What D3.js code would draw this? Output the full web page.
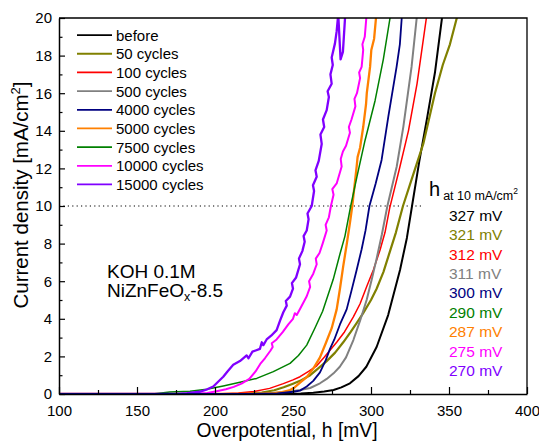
<!DOCTYPE html>
<html>
<head>
<meta charset="utf-8">
<script src="https://cdn.jsdelivr.net/npm/d3@7/dist/d3.min.js"></script>
<style>
  html, body { margin: 0; padding: 0; background: #fff; }
  svg { display: block; font-family: "Liberation Sans", Arial, sans-serif; }
</style>
</head>
<body>
<svg id="chart" width="539" height="443"></svg>
<script>
// ---- data: overpotential (mV) vs current density (mA/cm2) ----
const seriesLabels = ["before", "50 cycles", "100 cycles", "500 cycles", "4000 cycles",
                      "5000 cycles", "7500 cycles", "10000 cycles", "15000 cycles"];
// overpotential at 10 mA/cm2, listed with the series each value belongs to
const etaAt10 = [327, 321, 312, 311, 300, 290, 287, 275, 270];
const etaSeries = [0, 1, 2, 3, 4, 6, 5, 7, 8];

const curveBefore = [[100,0],[240,0],[255,0.03],[263,0.07],[270,0.13],[276,0.21],[281,0.35],
  [286.5,0.57],[292,0.95],[297,1.45],[303.6,2.5],[311,4.2],[318.6,6.6],[323,8.3],[326.3,10],
  [331,12.4],[336,14.7],[341,17.1],[345.5,20]];
const curve50 = [[100,0],[215,0],[230,0.08],[238,0.2],[244,0.36],[250,0.55],[254.5,0.7],
  [261,1.0],[266,1.35],[271.6,1.75],[277,2.2],[282.2,2.75],[287,3.3],[291,3.8],[295,4.3],
  [300,5.0],[303.6,5.6],[308,6.5],[312.2,7.6],[316,8.6],[320.5,10],[326,11.4],[333.5,13.3],
  [341,16.0],[346,17.5],[350.6,18.6],[355,20]];
const curve100 = [[100,0],[200,0],[215,0.05],[225,0.13],[235,0.3],[243.8,0.55],[250,0.75],
  [254.5,0.92],[260,1.2],[265.2,1.5],[270,1.95],[274,2.35],[278,2.75],[283,3.3],[288.7,4.1],
  [293,4.8],[297.2,5.7],[301.5,6.6],[305.8,7.66],[309,8.6],[312,9.9],[318,11.9],[324,14.0],
  [329.5,16.5],[335.5,20]];
const curve500 = [[100,0],[220,0],[235,0.04],[245,0.1],[254.5,0.21],[261,0.32],[267.3,0.57],
  [271.6,0.8],[276,1.1],[280,1.45],[284,1.95],[288.7,2.87],[293,3.9],[297.2,5.0],[300.5,6.1],
  [303.6,7.2],[307,8.5],[310.5,10],[316.5,12.1],[320.7,14.2],[326,17.4],[329.3,20]];
const curve4000 = [[100,0],[225,0],[240,0.03],[250.2,0.12],[254.5,0.18],[258.8,0.4],[263,0.7],
  [267.3,1.15],[271,1.8],[273.7,2.4],[276.5,2.9],[280.1,3.7],[284.4,4.5],[287.5,5.5],
  [290.8,6.6],[294,7.7],[296.5,8.7],[299,10.0],[303,11.2],[306.8,12.45],[311.1,14.75],
  [316.4,17.4],[318.5,18.6],[319.7,20]];
const curve5000 = [[100,0],[215,0],[230,0.02],[237.4,0.04],[243,0.1],[248.1,0.21],[251,0.35],
  [254.5,0.6],[258.8,0.9],[263,1.35],[267.3,1.95],[271,2.7],[274.8,3.5],[278,4.5],[280.1,5.6],
  [282.2,6.8],[284.5,8.0],[286.5,9.1],[288,10.0],[290.8,12.1],[291.4,12.6],[293,13.1],
  [295,14.2],[296.8,15.4],[297.3,16.0],[299.4,17.4],[300.2,18.3],[302,18.9],[303.2,20]];
const curve7500 = [[100,0],[160,0],[171,0.1],[184,0.15],[194.7,0.25],[205.3,0.43],[216,0.62],
  [226.7,0.83],[237.4,1.19],[248.1,1.63],[253.5,2.05],[258.8,2.6],[264,3.5],[269,4.4],
  [275.8,6.1],[280.1,7.45],[283.3,8.4],[287,10],[291,11.56],[296.2,13.5],[302.6,15.6],
  [307.9,17.8],[312.2,20]];
const curve10000 = [[100,0],[185,0],[195,0.05],[201,0.15],[207,0.25],[212,0.38],[217,0.55],
  [222,0.8],[226,1.2],[229,1.6],[232,1.9],[235.5,2.3],[237,2.5],[236.4,2.7],[239.5,2.9],
  [243.5,3.3],[247,3.7],[250,4.0],[251.2,4.3],[252.4,4.2],[255,4.6],[258.8,5.2],[261,5.7],
  [260.3,6.0],[263,6.4],[265.2,6.9],[264.6,7.2],[267,7.5],[269,8.0],[271.6,8.7],[270.9,9.0],
  [273,9.4],[274.3,10],[276,10.6],[275.2,10.9],[278,11.2],[281.2,12.1],[280.6,12.5],
  [282,12.9],[284,13.2],[286.5,13.9],[285.8,14.2],[287.5,14.6],[290,15.3],[289.4,15.7],
  [291,16],[293,16.8],[292.4,17.1],[294,17.4],[295,18.3],[294.5,18.6],[296,19],[297,20]];
const curve15000 = [[100,0],[175,0],[182,0.04],[190.4,0.12],[195,0.25],[198.9,0.4],[202,0.65],
  [205.3,0.92],[208,1.2],[211.7,1.55],[216,1.75],[220.3,2.05],[221.5,1.9],[224,2.25],
  [228.8,2.4],[230,2.75],[231,2.6],[233.1,2.9],[236,3.1],[239.5,3.4],[241.7,3.9],[243.8,4.35],
  [246,4.7],[245.4,4.95],[248.1,5.18],[250,5.6],[249.3,5.9],[252,6.2],[254.5,6.9],
  [253.8,7.2],[256,7.6],[257.5,8.1],[256.8,8.4],[258.8,8.7],[260,9.3],[259.3,9.6],[262,10],
  [263.5,10.8],[262.8,11.1],[265.2,11.56],[264.4,11.9],[266.5,12.4],[268.4,13.3],
  [267.6,13.8],[270,14.2],[269.2,14.6],[271.6,15.1],[273,15.8],[272.2,16.1],[274.8,16.5],
  [274,17.0],[275.5,17.5],[274.8,17.9],[276.9,18.65],[278,19.3],[279,20.2],[280.5,17.8],
  [282,18.2],[283.5,20.2]];

const curves = [curveBefore, curve50, curve100, curve500, curve4000,
                curve5000, curve7500, curve10000, curve15000];

const xTicks = [100, 150, 200, 250, 300, 350, 400];
const yTicks = [0, 2, 4, 6, 8, 10, 12, 14, 16, 18, 20];
const refCurrent = 10;       // dotted reference level, mA/cm2
const refLineEnd = 333;      // mV where the dotted level stops

// ---- styling ----
const colors = ["#000000", "#808000", "#ff0000", "#808080", "#000080",
                "#ff8000", "#008000", "#ff00ff", "#8000ff"];
const widths = [2, 2.2, 1.5, 2, 1.8, 2.3, 1.5, 2, 2.3];
const drawOrder = [0, 1, 2, 3, 5, 6, 7, 8, 4];

const svg = d3.select("#chart");
const plotL = 59, plotR = 527, plotT = 18, plotB = 394;

const x = d3.scaleLinear().domain([100, 400]).range([plotL, plotR]);
const y = d3.scaleLinear().domain([0, 20]).range([plotB, plotT]);

svg.append("defs").append("clipPath").attr("id", "plotClip")
  .append("rect").attr("x", plotL).attr("y", plotT)
  .attr("width", plotR - plotL).attr("height", plotB - plotT);

// dotted reference line at 10 mA/cm2
svg.append("line")
  .attr("x1", x(100)).attr("x2", x(refLineEnd))
  .attr("y1", y(refCurrent)).attr("y2", y(refCurrent))
  .attr("stroke", "#000").attr("stroke-width", 1.2)
  .attr("stroke-dasharray", "1.2,3.2");

// polarisation curves
const line = d3.line().x(d => x(d[0])).y(d => y(d[1])).curve(d3.curveLinear);
const curveG = svg.append("g").attr("clip-path", "url(#plotClip)");
drawOrder.forEach(i => {
  curveG.append("path")
    .attr("d", line(curves[i]))
    .attr("fill", "none")
    .attr("stroke", colors[i])
    .attr("stroke-width", widths[i])
    .attr("stroke-linejoin", "round")
    .attr("stroke-linecap", "round");
});

// frame (top and right)
svg.append("path")
  .attr("d", `M${plotL},${plotT}H${plotR}V${plotB}`)
  .attr("fill", "none").attr("stroke", "#000").attr("stroke-width", 1.3);

// axes with inward ticks
svg.append("g").attr("transform", `translate(0,${plotB})`)
  .call(d3.axisBottom(x).tickValues(xTicks).tickSize(-7).tickSizeOuter(0).tickPadding(11)
        .tickFormat(d3.format("d")));
svg.append("g").attr("transform", `translate(0,${plotB})`)
  .call(d3.axisBottom(x).tickValues(d3.range(125, 400, 50)).tickSize(-4).tickSizeOuter(0)
        .tickFormat(""))
  .select(".domain").remove();

svg.append("g").attr("transform", `translate(${plotL},0)`)
  .call(d3.axisLeft(y).tickValues(yTicks).tickSize(-6).tickSizeOuter(0).tickPadding(7)
        .tickFormat(d3.format("d")));
svg.append("g").attr("transform", `translate(${plotL},0)`)
  .call(d3.axisLeft(y).tickValues(d3.range(1, 20, 2)).tickSize(-3.5).tickSizeOuter(0)
        .tickFormat(""))
  .select(".domain").remove();

svg.selectAll(".domain").attr("stroke", "#000").attr("stroke-width", 1.5);
svg.selectAll(".tick line").attr("stroke", "#000").attr("stroke-width", 1.2);
svg.selectAll(".tick text").attr("font-size", 15).attr("fill", "#000")
  .attr("font-family", "'Liberation Sans', Arial, sans-serif");

// axis titles
svg.append("text")
  .attr("x", 287).attr("y", 437).attr("text-anchor", "middle")
  .attr("font-size", 19.3).text("Overpotential, h [mV]");

const yTitle = svg.append("text")
  .attr("transform", "translate(28,195) rotate(-90)")
  .attr("text-anchor", "middle").attr("font-size", 20.5);
yTitle.append("tspan").text("Current density [mA/cm");
yTitle.append("tspan").attr("font-size", 13).attr("dy", -8).text("2");
yTitle.append("tspan").attr("dy", 8).text("]");

// legend
const legend = svg.append("g");
seriesLabels.forEach((lab, i) => {
  const by = 40.6 + i * 18.67;
  legend.append("line")
    .attr("x1", 77).attr("x2", 112).attr("y1", by - 5.5).attr("y2", by - 5.5)
    .attr("stroke", colors[i]).attr("stroke-width", 1.8);
  legend.append("text").attr("x", 116).attr("y", by)
    .attr("font-size", 15).attr("fill", "#000").text(lab);
});

// electrolyte / sample annotation
svg.append("text").attr("x", 107).attr("y", 278).attr("font-size", 19).text("KOH 0.1M");
const sample = svg.append("text").attr("x", 107).attr("y", 297).attr("font-size", 19);
sample.append("tspan").text("NiZnFeO");
sample.append("tspan").attr("font-size", 12.5).attr("dy", 4).text("x");
sample.append("tspan").attr("dy", -4).text("-8.5");

// overpotential at 10 mA/cm2 table
const head = svg.append("text").attr("x", 429).attr("y", 196);
head.append("tspan").attr("font-size", 20).text("h");
head.append("tspan").attr("font-size", 12.5).attr("dx", 3).attr("dy", 4).text("at 10 mA/cm");
head.append("tspan").attr("font-size", 8.5).attr("dy", -6).text("2");

etaAt10.forEach((v, i) => {
  svg.append("text").attr("x", 449).attr("y", 220.7 + i * 19.4)
    .attr("font-size", 15.5).attr("fill", colors[etaSeries[i]]).text(`${v} mV`);
});
</script>
</body>
</html>
